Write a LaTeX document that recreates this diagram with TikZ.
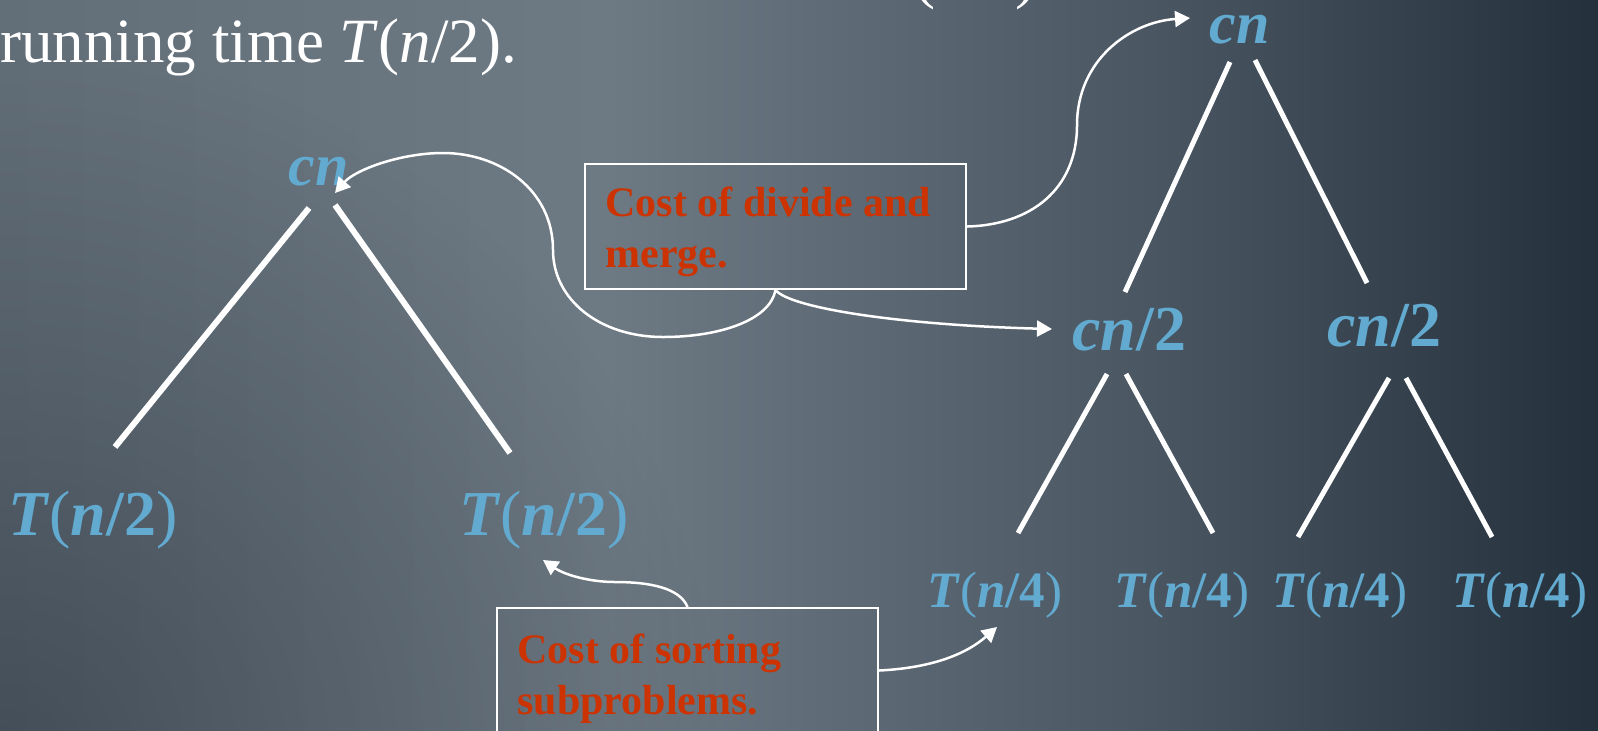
\documentclass[tikz,border=0pt]{standalone}
\usepackage{fontspec}
\setmainfont{Liberation Serif}
\usetikzlibrary{arrows.meta,fadings}
\definecolor{lblue}{RGB}{98,170,207}
\definecolor{cred}{RGB}{204,51,0}
\definecolor{bgA}{RGB}{98,110,120}
\definecolor{bgB}{RGB}{109,121,131}
\definecolor{bgC}{RGB}{74,86,98}
\definecolor{bgD}{RGB}{36,48,60}
\definecolor{vig}{RGB}{30,38,48}
\pgfdeclarehorizontalshading{bgshade}{100bp}{color(0bp)=(bgA); color(25bp)=(bgA); color(44bp)=(bgB); color(61bp)=(bgC); color(75bp)=(bgD); color(100bp)=(bgD)}
\tikzfading[name=vigfade, inner color=transparent!0, outer color=transparent!100]
\newcommand{\bi}[1]{\textbf{\textit{#1}}}
\begin{document}
\begin{tikzpicture}[x=0.5pt,y=-0.5pt,
  lbl/.style={text=lblue, inner sep=0pt, anchor=base west, font=\fontsize{32}{38}\selectfont},
  slbl/.style={lbl, font=\fontsize{25.5}{30}\selectfont},
  clbl/.style={lbl, font=\fontsize{30}{36}\selectfont},
  wtxt/.style={text=white, inner sep=0pt, anchor=base west, font=\fontsize{31.5}{38}\selectfont},
  costbox/.style={draw=white, line width=1pt, inner sep=0pt, minimum width=190.5pt, minimum height=62.5pt, anchor=north west},
  costtxt/.style={text=cred, inner sep=0pt, anchor=north west, align=left, font=\fontsize{21}{25.5}\selectfont\bfseries},
  branch/.style={white, line width=3pt},
  rbranch/.style={white, line width=2.5pt},
  pointer/.style={white, line width=1.25pt, -{Triangle[length=7.5pt,width=8pt]}},
  plain/.style={white, line width=1.25pt},
]
\useasboundingbox (0,0) rectangle (1598,730);
\clip (0,0) rectangle (1598,730);
\shade[shading=bgshade] (0,0) rectangle (1598,730);
\fill[vig, path fading=vigfade, fill opacity=0.45] (0,760) circle (360pt);

% text at top
\node[wtxt] (prev) at (914,-4) {(\textit{n}/2)};
\node[wtxt] (intro) at (0,62) {running time \textit{T}(\textit{n}/2).};

% left tree
\node[clbl] (cnL) at (288,185) {\bi{cn}};
\node[lbl] (TL1) at (8,535) {\bi{T}(\bi{n}\textbf{/2})};
\node[lbl] (TL2) at (459,535) {\bi{T}(\bi{n}\textbf{/2})};
\coordinate (l1a) at (309,208); \coordinate (l1b) at (115,447);
\coordinate (l2a) at (335,205); \coordinate (l2b) at (510,453);
\draw[branch] (l1a) -- (l1b);
\draw[branch] (l2a) -- (l2b);

% right tree
\node[clbl] (cnR) at (1209,43) {\bi{cn}};
\node[lbl] (h1) at (1072,350) {\bi{cn}\textbf{/2}};
\node[lbl] (h2) at (1327,346) {\bi{cn}\textbf{/2}};
\node[slbl] (q1) at (927,607) {\bi{T}(\bi{n}\textbf{/4})};
\node[slbl] (q2) at (1114,607) {\bi{T}(\bi{n}\textbf{/4})};
\node[slbl] (q3) at (1272,607) {\bi{T}(\bi{n}\textbf{/4})};
\node[slbl] (q4) at (1452,607) {\bi{T}(\bi{n}\textbf{/4})};
\coordinate (r1a) at (1230,62); \coordinate (r1b) at (1125,292);
\coordinate (r2a) at (1255,60); \coordinate (r2b) at (1367,283);
\coordinate (r3a) at (1107,374); \coordinate (r3b) at (1018,533);
\coordinate (r4a) at (1126,374); \coordinate (r4b) at (1213,533);
\coordinate (r5a) at (1389,378); \coordinate (r5b) at (1298,537);
\coordinate (r6a) at (1406,378); \coordinate (r6b) at (1492,537);
\draw[rbranch] (r1a) -- (r1b);
\draw[rbranch] (r2a) -- (r2b);
\draw[rbranch] (r3a) -- (r3b);
\draw[rbranch] (r4a) -- (r4b);
\draw[rbranch] (r5a) -- (r5b);
\draw[rbranch] (r6a) -- (r6b);

% cost boxes
\node[costbox] (b1) at (584,163) {};
\node[costtxt] (t1) at (605,187) {Cost of divide and\\merge.};
\node[costbox] (b2) at (496,607) {};
\node[costtxt] (t2) at (517,634) {Cost of sorting\\subproblems.};

% pointers
\coordinate (p1) at (335,193);
\coordinate (p2) at (1052,329);
\coordinate (p3) at (1190,18);
\coordinate (p4) at (543,560);
\coordinate (p5) at (997,627);
\draw[pointer] (b1.south) .. controls (770,320) and (720,337) .. (663,337)
  .. controls (600,337) and (553,300) .. (553,250)
  .. controls (553,190) and (500,153) .. (443,153)
  .. controls (400,153) and (355,170) .. (p1);
\draw[pointer] (b1.south) .. controls (790,308) and (900,325) .. (p2);
\draw[pointer] (b1.east) .. controls (1030,225) and (1077,190) .. (1077,125)
  .. controls (1077,60) and (1130,22) .. (p3);
\draw[pointer] (b2.north) .. controls (680,588) and (650,582) .. (615,582)
  .. controls (590,582) and (565,575) .. (p4);
\draw[pointer] (b2.east) .. controls (930,668) and (965,655) .. (p5);
\end{tikzpicture}
\end{document}
